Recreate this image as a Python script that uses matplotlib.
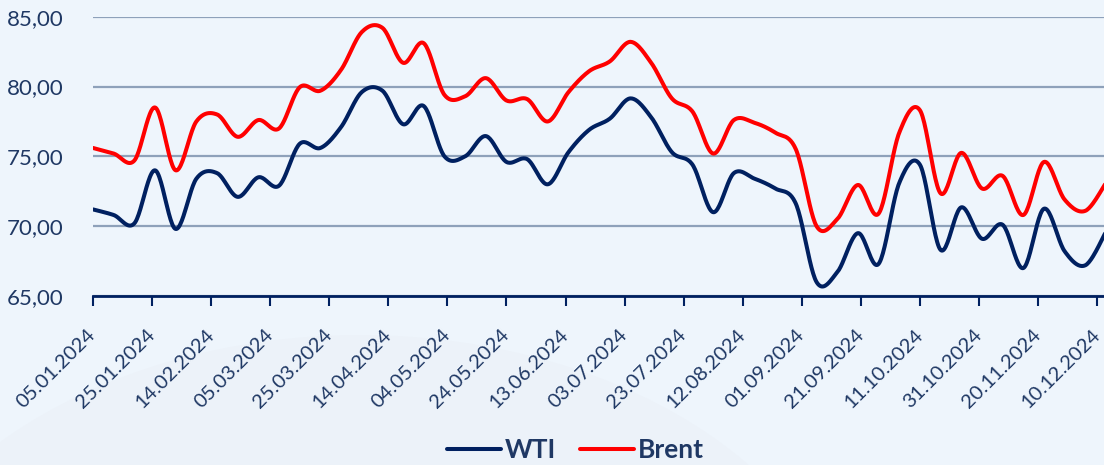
import numpy as np
import matplotlib.pyplot as plt
import matplotlib.dates as mdates
from matplotlib.patches import Ellipse
from datetime import datetime

# Weekly observations (Fridays)
dates = ["05.01.2024", "12.01.2024", "19.01.2024", "26.01.2024", "02.02.2024",
         "09.02.2024", "16.02.2024", "23.02.2024", "01.03.2024", "08.03.2024",
         "15.03.2024", "22.03.2024", "29.03.2024", "05.04.2024", "12.04.2024",
         "19.04.2024", "26.04.2024", "03.05.2024", "10.05.2024", "17.05.2024",
         "24.05.2024", "31.05.2024", "07.06.2024", "14.06.2024", "21.06.2024",
         "28.06.2024", "05.07.2024", "12.07.2024", "19.07.2024", "26.07.2024",
         "02.08.2024", "09.08.2024", "16.08.2024", "23.08.2024", "30.08.2024",
         "06.09.2024", "13.09.2024", "20.09.2024", "27.09.2024", "04.10.2024",
         "11.10.2024", "18.10.2024", "25.10.2024", "01.11.2024", "08.11.2024",
         "15.11.2024", "22.11.2024", "29.11.2024", "06.12.2024", "13.12.2024"]

wti = [71.2, 70.8, 70.2, 74.0, 69.8, 73.4, 73.8, 72.1, 73.5, 72.9,
       75.9, 75.6, 77.1, 79.6, 79.7, 77.3, 78.6, 75.0, 75.0, 76.45,
       74.6, 74.8, 73.0, 75.3, 76.9, 77.7, 79.15, 77.8, 75.3, 74.4,
       71.0, 73.8, 73.4, 72.7, 71.6, 66.0, 66.7, 69.5, 67.3, 73.1,
       74.4, 68.3, 71.35, 69.1, 70.1, 67.0, 71.25, 68.2, 67.2, 69.6]

brent = [75.6, 75.2, 74.7, 78.5, 74.0, 77.5, 78.0, 76.4, 77.6, 77.0,
         79.95, 79.7, 81.2, 83.9, 84.2, 81.7, 83.1, 79.4, 79.3, 80.6,
         79.0, 79.1, 77.5, 79.6, 81.1, 81.8, 83.2, 81.7, 79.15, 78.2,
         75.2, 77.6, 77.4, 76.7, 75.5, 70.0, 70.5, 72.95, 70.9, 76.7,
         78.3, 72.35, 75.25, 72.7, 73.6, 70.8, 74.6, 71.9, 71.1, 73.1]

tick_labels = ["05.01.2024", "25.01.2024", "14.02.2024", "05.03.2024", "25.03.2024",
               "14.04.2024", "04.05.2024", "24.05.2024", "13.06.2024", "03.07.2024",
               "23.07.2024", "12.08.2024", "01.09.2024", "21.09.2024", "11.10.2024",
               "31.10.2024", "20.11.2024", "10.12.2024"]

y_ticks = [65, 70, 75, 80, 85]
y_labels = ["65,00", "70,00", "75,00", "80,00", "85,00"]


def to_num(strs):
    return mdates.date2num([datetime.strptime(s, "%d.%m.%Y") for s in strs])


def smooth(xs, ys, n=24):
    # Catmull-Rom path through the points, like Excel's smoothed line
    res = []
    t = np.linspace(0, 1, n, endpoint=False)[:, None]
    for v in (xs, ys):
        v = np.asarray(v, float)
        p = np.concatenate([[v[0]], v, [v[-1]]])
        p0, p1, p2, p3 = p[:-3], p[1:-2], p[2:-1], p[3:]
        seg = 0.5 * (2 * p1 + (-p0 + p2) * t + (2 * p0 - 5 * p1 + 4 * p2 - p3) * t ** 2
                     + (-p0 + 3 * p1 - 3 * p2 + p3) * t ** 3)
        res.append(np.concatenate([seg.T.ravel(), v[-1:]]))
    return res


navy = "#002060"
text_col = "#1F3864"
plt.rcParams["font.family"] = ["Lato", "DejaVu Sans"]

fig = plt.figure(figsize=(11.04, 4.65), dpi=100, facecolor="#EEF5FC")
fig.add_artist(Ellipse((360 / 1104, -220 / 465), 1000 / 1104, 700 / 465,
                       transform=fig.transFigure, facecolor="#ECF2F9",
                       edgecolor="none", zorder=-5))

ax = fig.add_axes([93 / 1104, 1 - 296 / 465, 1013 / 1104, 279.3 / 465])
ax.set_facecolor("none")

x = to_num(dates)
sx, sy = smooth(x, wti)
ax.plot(sx, sy, color=navy, lw=2.9, solid_capstyle="round", label="WTI", zorder=3)
sx, sy = smooth(x, brent)
ax.plot(sx, sy, color="#FF0000", lw=2.9, solid_capstyle="round", label="Brent", zorder=3)

ax.set_xlim(x[0], x[-1])
ax.set_ylim(65, 85)
ax.set_yticks(y_ticks)
ax.set_yticklabels(y_labels)
ax.set_xticks(to_num(tick_labels))
ax.set_xticklabels(tick_labels, rotation=45, ha="right", va="center",
                   rotation_mode="anchor")

ax.grid(axis="y", color="#8EA1BA", lw=1.6)
ax.set_axisbelow(True)
for side in ["top", "right", "left"]:
    ax.spines[side].set_visible(False)
ax.spines["bottom"].set_color(navy)
ax.spines["bottom"].set_linewidth(2)
ax.spines["bottom"].set_zorder(4)

ax.tick_params(axis="y", length=0, pad=21, labelsize=16, labelcolor=text_col)
ax.tick_params(axis="x", length=7, width=1.5, color=navy, pad=19,
               labelsize=14.5, labelcolor=text_col)

leg = fig.legend(loc="center", bbox_to_anchor=(0.521, 0.032), ncol=2,
                 frameon=False, handlelength=2.05, handletextpad=0.15,
                 columnspacing=0.9, prop={"size": 19, "weight": "bold"})
for t in leg.get_texts():
    t.set_color(text_col)

fig.savefig("out.png", dpi=100, facecolor=fig.get_facecolor())
